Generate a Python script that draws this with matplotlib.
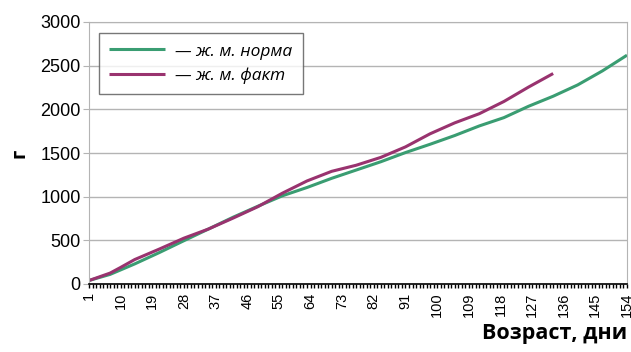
import matplotlib
matplotlib.use("Agg")
import matplotlib.pyplot as plt
from matplotlib.ticker import MultipleLocator, FixedLocator

# ── Данные ───────────────────────────────────────────────────────────────────
norm_days = [1, 7, 14, 21, 28, 35, 42, 49, 56, 63, 70, 77, 84, 91, 98,
             105, 112, 119, 126, 133, 140, 147, 154]
norm_mass = [40, 110, 230, 360, 496, 630, 765, 890, 1010, 1105, 1210, 1305,
             1400, 1505, 1600, 1700, 1810, 1905, 2035, 2150, 2280, 2440, 2620]

fact_days = [1, 7, 10, 14, 21, 28, 35, 42, 49, 56, 63, 70, 77, 84, 91, 98,
             105, 112, 119, 126, 133]
fact_mass = [40, 125, 190, 280, 400, 525, 630, 755, 885, 1040, 1180, 1290,
             1360, 1450, 1570, 1720, 1845, 1950, 2090, 2255, 2410]

x_labels = list(range(1, 155, 9))
y_ticks = [0, 500, 1000, 1500, 2000, 2500, 3000]

C_NORM = "#3a9d72"
C_FACT = "#99336f"
GRID = "#b4b4b4"

plt.rcParams["font.family"] = ["Liberation Sans", "DejaVu Sans"]

fig = plt.figure(figsize=(6.31, 3.52), dpi=100)
ax = fig.add_axes([89 / 631, 1 - 284 / 352, 538 / 631, 262 / 352])

ax.plot(norm_days, norm_mass, color=C_NORM, lw=2.2, label="\u2014 ж. м. норма",
        solid_capstyle="butt")
ax.plot(fact_days, fact_mass, color=C_FACT, lw=2.2, label="\u2014 ж. м. факт",
        solid_capstyle="butt")

ax.set_xlim(1, 154)
ax.set_ylim(0, 3000)
ax.set_yticks(y_ticks)
ax.set_yticklabels([str(v) for v in y_ticks], fontsize=13)
ax.yaxis.grid(True, color=GRID, lw=1.0)
ax.set_axisbelow(True)

ax.xaxis.set_major_locator(FixedLocator(x_labels))
ax.xaxis.set_minor_locator(MultipleLocator(1))
ax.set_xticklabels([str(v) for v in x_labels], rotation=90, fontsize=10.5)
ax.tick_params(axis="x", which="both", length=3, width=1.0, color="black",
               direction="out", pad=3)
ax.tick_params(axis="y", length=4, color=GRID, pad=2)

for side in ("left", "right", "top"):
    ax.spines[side].set_color(GRID)
ax.spines["bottom"].set_color("black")
ax.spines["bottom"].set_linewidth(1.2)

fig.text(627 / 631, 1 - 333 / 352, "Возраст, дни", ha="right", va="center",
         fontsize=15.5, fontweight="bold", family=["Open Sans", "DejaVu Sans"])
fig.text(20 / 631, 1 - 153 / 352, "г", ha="center", va="center", rotation=90,
         fontsize=14, fontweight="bold", family=["Open Sans", "DejaVu Sans"])

leg = ax.legend(loc="upper left", bbox_to_anchor=(10 / 538, 1 - 11 / 262),
                borderaxespad=0, frameon=True, fancybox=False, handlelength=3.2,
                prop={"family": ["Open Sans", "DejaVu Sans"], "style": "italic",
                      "size": 12.5},
                borderpad=0.6, labelspacing=0.45, handletextpad=0.6)
leg.get_frame().set_edgecolor("#555555")
leg.get_frame().set_linewidth(1.0)

fig.savefig("out.png", dpi=100)
